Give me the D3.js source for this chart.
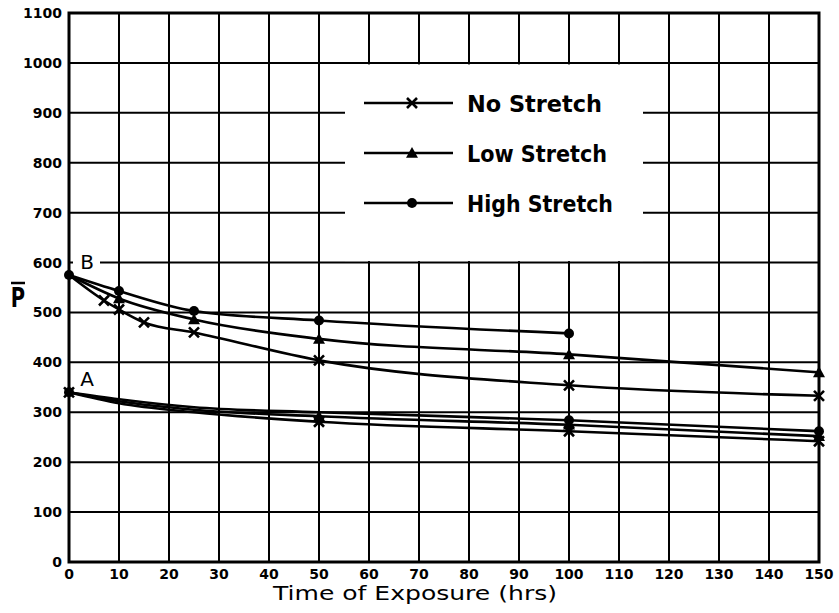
<!DOCTYPE html>
<html><head><meta charset="utf-8">
<script src="https://cdn.jsdelivr.net/npm/d3@7"></script>
<style>html,body{margin:0;padding:0;background:#fff;}svg{display:block;}</style>
</head><body>
<svg id="chart" width="839" height="613"></svg>
<script>
// ---- data ----
const xTicks = [0,10,20,30,40,50,60,70,80,90,100,110,120,130,140,150];
const yTicks = [0,100,200,300,400,500,600,700,800,900,1000,1100];
const legendLabels = ["No Stretch", "Low Stretch", "High Stretch"];
const legendMarkers = ["x", "triangle", "circle"];

// Group B (upper curves)
const bNoHours   = [0, 7, 10, 15, 25, 50, 100, 150];
const bNoValues  = [575, 524, 506, 480, 460, 404, 354, 333];
const bLowHours  = [0, 10, 25, 50, 100, 150];
const bLowValues = [575, 528, 486, 447, 416, 380];
const bHighHours = [0, 10, 25, 50, 100];
const bHighValues= [575, 543, 503, 484, 458];

// Group A (lower curves)
const aHours     = [0, 10, 25, 50, 100, 150];
const aNoValues  = [340, 318, 300, 281, 262, 242];
const aLowValues = [340, 322, 305, 292, 275, 252];
const aHighValues= [340, 326, 310, 300, 284, 262];

const groupLabels = ["A", "B"];

// ---- layout ----
const svg = d3.select("#chart");
const x = d3.scaleLinear().domain([0,150]).range([69,819]);
const y = d3.scaleLinear().domain([0,1100]).range([562,13]);
const font = "'DejaVu Sans', sans-serif";

// grid
const g = svg.append("g");
g.selectAll("line.v").data(xTicks).join("line")
  .attr("x1", d=>x(d)).attr("x2", d=>x(d)).attr("y1", y(0)).attr("y2", y(1100))
  .attr("stroke","#000").attr("stroke-width", 2);
g.selectAll("line.h").data(yTicks).join("line")
  .attr("x1", x(0)).attr("x2", x(150)).attr("y1", d=>y(d)).attr("y2", d=>y(d))
  .attr("stroke","#000").attr("stroke-width", 2);
// frame
g.append("rect").attr("x", x(0)).attr("y", y(1100)).attr("width", x(150)-x(0)).attr("height", y(0)-y(1100))
  .attr("fill","none").attr("stroke","#000").attr("stroke-width",3);

// legend white box (covers grid)
svg.append("rect").attr("x", x(55.2)).attr("y", y(1000)+1.5)
  .attr("width", x(114.8)-x(55.2)).attr("height", y(600)-y(1000)-3).attr("fill","#fff");

// axes labels
svg.append("g").selectAll("text").data(yTicks).join("text")
  .attr("x", 62).attr("y", d=>y(d)+5).attr("text-anchor","end")
  .attr("font-family", font).attr("font-weight","bold").attr("font-size", 14)
  .text(d=>d);
svg.append("g").selectAll("text").data(xTicks).join("text")
  .attr("x", d=>x(d)).attr("y", 579).attr("text-anchor","middle")
  .attr("font-family", font).attr("font-weight","bold").attr("font-size", 14)
  .text(d=>d);

svg.append("text").attr("x", 415).attr("y", 600).attr("text-anchor","middle")
  .attr("font-family", font).attr("font-size", 20).attr("textLength", 284).attr("lengthAdjust","spacingAndGlyphs")
  .text("Time of Exposure (hrs)");

// y label P with bar
svg.append("text").attr("x", 18).attr("y", 307).attr("text-anchor","middle")
  .attr("font-family", font).attr("font-weight","bold").attr("font-size", 26)
  .attr("transform","translate(18,307) scale(0.75,1) translate(-18,-307)")
  .text("P");
svg.append("line").attr("x1", 11).attr("x2", 25).attr("y1", 283).attr("y2", 283)
  .attr("stroke","#000").attr("stroke-width",2.5);

// group labels A / B
svg.append("rect").attr("x", 73).attr("y", 250).attr("width", 27).attr("height", 20).attr("fill","#fff");
svg.append("g").selectAll("text").data(groupLabels).join("text")
  .attr("x", 87).attr("y", d=> d==="A" ? 386 : 269).attr("text-anchor","middle")
  .attr("font-family", font).attr("font-size", 20)
  .text(d=>d);

// ---- curves ----
const line = d3.line().x(d=>x(d[0])).y(d=>y(d[1])).curve(d3.curveMonotoneX);
const zip = (hs, vs) => hs.map((h,i)=>[h, vs[i]]);

const series = [
  {pts: zip(bNoHours, bNoValues),   marker:"x",        mk:[7,10,15,25,50,100,150]},
  {pts: zip(bLowHours, bLowValues), marker:"triangle", mk:[10,25,50,100,150]},
  {pts: zip(bHighHours, bHighValues), marker:"circle", mk:[0,10,25,50,100]},
  {pts: zip(aHours, aNoValues),     marker:"x",        mk:[0,50,100,150]},
  {pts: zip(aHours, aLowValues),    marker:"triangle", mk:[50,100,150]},
  {pts: zip(aHours, aHighValues),   marker:"circle",   mk:[0,100,150]}
];

const cg = svg.append("g");
series.forEach(s=>{
  cg.append("path").attr("d", line(s.pts)).attr("fill","none")
    .attr("stroke","#000").attr("stroke-width", 2.6).attr("stroke-linecap","round");
});

function drawMarker(sel, type, cx, cy, sc) {
  sc = sc || 1;
  if (type === "circle") {
    sel.append("circle").attr("cx", cx).attr("cy", cy).attr("r", 5*sc).attr("fill","#000");
  } else if (type === "triangle") {
    const s = 6*sc;
    sel.append("path").attr("d", `M${cx},${cy-s}L${cx+s},${cy+s*0.8}L${cx-s},${cy+s*0.8}Z`).attr("fill","#000");
  } else {
    const s = 5*sc;
    sel.append("path").attr("d", `M${cx-s},${cy-s}L${cx+s},${cy+s}M${cx+s},${cy-s}L${cx-s},${cy+s}`)
      .attr("stroke","#000").attr("stroke-width",2.6).attr("fill","none");
  }
}
series.forEach(s=>{
  s.pts.filter(p=>s.mk.includes(p[0])).forEach(p=>drawMarker(cg, s.marker, x(p[0]), y(p[1])));
});

// ---- legend ----
const legendY = [103, 153, 203];
const legendW = [135, 140, 146];
const lg = svg.append("g");
legendLabels.forEach((lab,i)=>{
  lg.append("line").attr("x1", 364).attr("x2", 453).attr("y1", legendY[i]).attr("y2", legendY[i])
    .attr("stroke","#000").attr("stroke-width", 2.4);
  drawMarker(lg, legendMarkers[i], 412, legendY[i], 1);
  lg.append("text").attr("x", 467).attr("y", legendY[i]+9)
    .attr("font-family", font).attr("font-weight","bold").attr("font-size", 23)
    .attr("textLength", legendW[i]).attr("lengthAdjust","spacingAndGlyphs")
    .text(lab);
});
</script>
</body></html>
